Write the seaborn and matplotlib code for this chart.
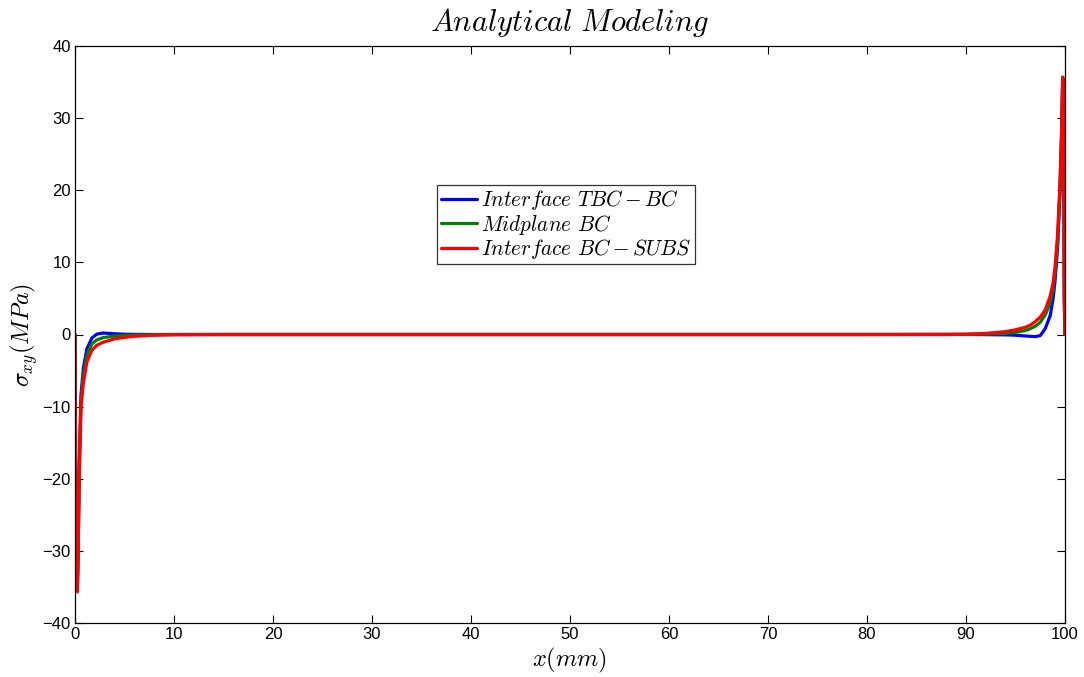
import numpy as np
import pandas as pd
import matplotlib
matplotlib.use("Agg")
import matplotlib.pyplot as plt
import seaborn as sns

# Shear stress sigma_xy along the coating length (mm), three through-thickness locations
labels = [r"$Interface\ TBC-BC$", r"$Midplane\ BC$", r"$Interface\ BC-SUBS$"]
colors = ["#0000ff", "#008000", "#ff0000"]

# left free edge
x_left = [0.0, 0.1, 0.23, 0.3, 0.43, 0.6, 0.85, 1.2, 1.7, 2.2, 2.8, 3.5, 4.0, 5.0, 6.0, 8.0, 10.0, 15.0]
blue_left = [0.0, -30.0, -35.5, -31.0, -18.0, -8.5, -4.6, -2.0, -0.5, 0.05, 0.2, 0.15, 0.1, 0.04, 0.02, 0.0, 0.0, 0.0]
green_left = [0.0, -30.0, -35.6, -31.5, -19.0, -9.3, -5.6, -2.9, -1.3, -0.75, -0.45, -0.3, -0.22, -0.12, -0.07, -0.02, 0.0, 0.0]
red_left = [0.0, -30.0, -35.7, -32.0, -19.7, -10.0, -6.7, -3.8, -2.2, -1.5, -1.1, -0.8, -0.6, -0.4, -0.25, -0.1, -0.04, 0.0]

# interior plateau
x_mid = [20.0, 40.0, 60.0, 80.0]
blue_mid = [0.0, 0.0, 0.0, 0.0]
green_mid = [0.0, 0.0, 0.0, 0.0]
red_mid = [0.0, 0.0, 0.0, 0.0]

# right free edge
x_right = [88.0, 90.0, 92.0, 94.0, 95.0, 96.0, 96.5, 97.0, 97.5, 98.0, 98.5, 98.8, 99.0, 99.25, 99.5, 99.65, 99.77, 99.85, 99.93, 100.0]
blue_right = [0.0, 0.0, -0.02, -0.05, -0.1, -0.2, -0.25, -0.3, -0.15, 0.8, 2.6, 5.0, 7.5, 12.0, 20.0, 27.0, 35.5, 33.0, 5.0, 0.0]
green_right = [0.0, 0.02, 0.05, 0.15, 0.3, 0.55, 0.8, 1.15, 1.7, 2.7, 4.4, 6.3, 8.6, 13.0, 20.5, 27.5, 35.6, 33.0, 5.0, 0.0]
red_right = [0.02, 0.05, 0.15, 0.4, 0.65, 1.0, 1.3, 1.8, 2.4, 3.4, 5.3, 7.2, 9.5, 13.8, 21.0, 28.0, 35.7, 33.0, 5.0, 0.0]

series_y = [
    blue_left + blue_mid + blue_right,
    green_left + green_mid + green_right,
    red_left + red_mid + red_right,
]
x_all = x_left + x_mid + x_right

frames = []
for lab, ys in zip(labels, series_y):
    frames.append(pd.DataFrame({"x": x_all, "y": ys, "series": lab}))
df = pd.concat(frames, ignore_index=True)

sns.set_style("ticks")
plt.rcParams["mathtext.fontset"] = "cm"
plt.rcParams["font.family"] = ["Liberation Sans", "DejaVu Sans"]
plt.rcParams["axes.unicode_minus"] = True
plt.rcParams["text.color"] = "black"
plt.rcParams["axes.labelcolor"] = "black"

fig = plt.figure(figsize=(10.84, 6.77), dpi=100)
ax = fig.add_axes([75 / 1084, 1 - 623 / 677, 990 / 1084, 577 / 677])

sns.lineplot(data=df, x="x", y="y", hue="series", palette=dict(zip(labels, colors)),
             hue_order=labels, sort=False, estimator=None, linewidth=2.3, ax=ax)

ax.set_xlim(0, 100)
ax.set_ylim(-40, 40)
ax.set_xticks(np.arange(0, 101, 10))
ax.set_yticks(np.arange(-40, 41, 10))
ax.tick_params(direction="in", top=True, right=True, length=6, width=0.8,
               labelsize=12, colors="black", pad=3)
for s in ax.spines.values():
    s.set_color("black")
    s.set_linewidth(0.9)

ax.set_title(r"$Analytical\ Modeling$", fontsize=22, pad=11, color="black")
ax.set_xlabel(r"$x(mm)$", fontsize=17.5, labelpad=3)
ax.set_ylabel(r"$\sigma_{xy}(MPa)$", fontsize=17.5, labelpad=2)

leg = ax.legend(loc="upper left", bbox_to_anchor=(0.366, 0.759), borderaxespad=0,
                fontsize=15.3, frameon=True, fancybox=False, shadow=False,
                handlelength=1.7, handletextpad=0.2, borderpad=0.15, labelspacing=0.02)
leg.get_frame().set_edgecolor("black")
leg.get_frame().set_linewidth(0.9)
for line in leg.get_lines():
    line.set_linewidth(2.3)

fig.savefig("out.png", dpi=100, facecolor="white")
